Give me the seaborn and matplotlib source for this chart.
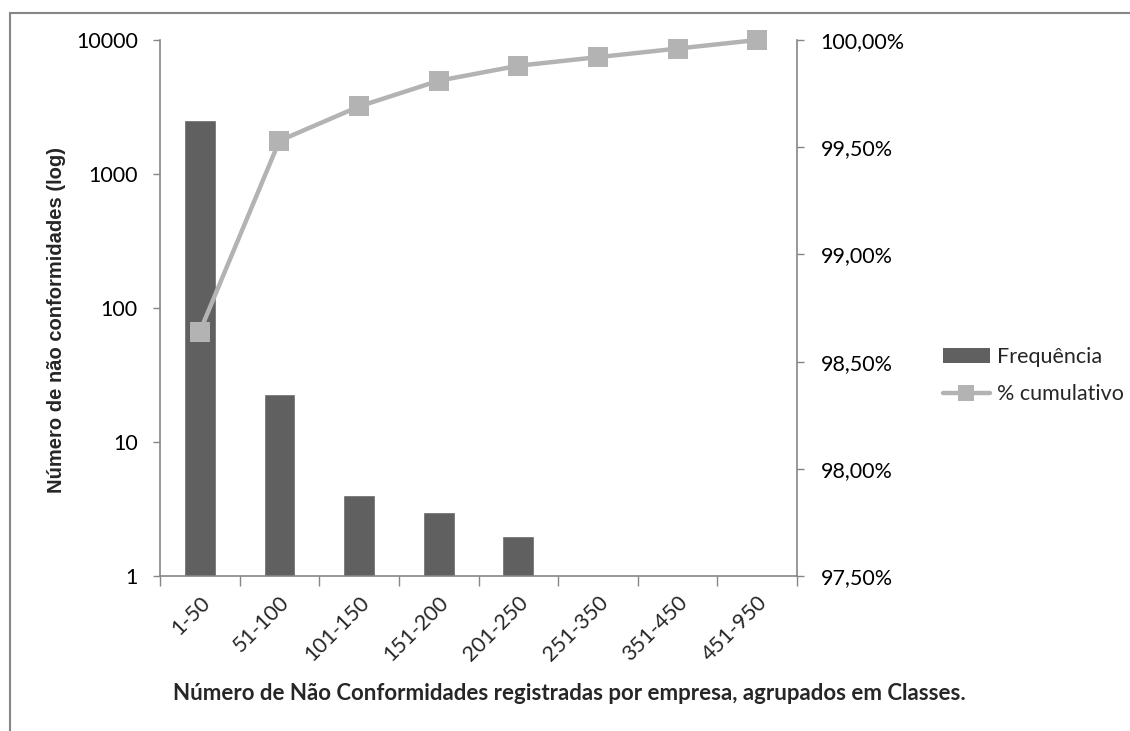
import numpy as np
import matplotlib
matplotlib.use("Agg")
import matplotlib.pyplot as plt
import matplotlib.ticker as mticker
from matplotlib.patches import Patch, Rectangle
from matplotlib.lines import Line2D
import seaborn as sns

# Data
classes = ["1-50", "51-100", "101-150", "151-200", "201-250", "251-350", "351-450", "451-950"]
frequencia = [2540, 23, 4, 3, 2, 1, 1, 1]
cumulativo = [98.64, 99.53, 99.69, 99.81, 99.88, 99.92, 99.96, 100.00]

bar_color = "#606060"
line_color = "#B3B3B3"
axis_color = "#868686"

sns.set_style("white")
plt.rcParams["font.family"] = ["Lato", "DejaVu Sans"]

fig = plt.figure(figsize=(11.3, 7.31), dpi=100)
ax = fig.add_axes([160 / 1130, 1 - 576 / 731, (797 - 160) / 1130, (576 - 40) / 731])

sns.barplot(x=classes, y=frequencia, ax=ax, color=bar_color, saturation=1, width=0.4)
ax.set_yscale("log")
ax.set_ylim(1, 10000)
ax.set_yticks([1, 10, 100, 1000, 10000])
ax.yaxis.set_major_formatter(mticker.FuncFormatter(lambda v, p: f"{v:.0f}"))
ax.yaxis.set_minor_locator(mticker.NullLocator())

# secondary axis with cumulative percentage
ax2 = ax.twinx()
sns.pointplot(x=classes, y=cumulativo, ax=ax2, color=line_color, marker="s",
              markersize=14, linewidth=3.2, markeredgewidth=0)
for ln in ax2.lines:
    ln.set_clip_on(False)
ax2.set_ylim(97.5, 100.0)
ax2.set_yticks(np.arange(97.5, 100.01, 0.5))
ax2.yaxis.set_major_formatter(mticker.FuncFormatter(lambda v, p: f"{v:.2f}%".replace(".", ",")))
ax2.set_xlim(-0.5, len(classes) - 0.5)
ax.set_xlim(-0.5, len(classes) - 0.5)

# spines / ticks
for a in (ax, ax2):
    for s in a.spines.values():
        s.set_visible(False)
ax.spines["left"].set_visible(True)
ax.spines["bottom"].set_visible(True)
ax2.spines["right"].set_visible(True)
for s in (ax.spines["left"], ax.spines["bottom"], ax2.spines["right"]):
    s.set_color(axis_color)
    s.set_linewidth(1.2)

ax.tick_params(axis="y", left=True, length=5, width=1, color=axis_color, pad=11,
               labelsize=15.5, labelcolor="black")
ax2.tick_params(axis="y", right=True, length=5, width=1, color=axis_color, pad=12,
                labelsize=15.5, labelcolor="black")

ax.set_xticks(np.arange(-0.5, len(classes)), minor=True)
ax.tick_params(axis="x", which="minor", bottom=True, length=7, width=1, color=axis_color)
ax.tick_params(axis="x", which="major", bottom=False, length=0, pad=12, labelsize=15.5)
for lab in ax.get_xticklabels():
    lab.set_rotation(45)
    lab.set_ha("right")
    lab.set_va("top")
    lab.set_rotation_mode("anchor")
ax2.set_xlabel("")
ax2.set_ylabel("")

ax.set_ylabel("Número de não conformidades (log)", fontsize=14.5, fontweight="bold",
              family=["Liberation Sans", "DejaVu Sans"])
ax.yaxis.set_label_coords(-0.147, 0.478)
ax.set_xlabel("Número de Não Conformidades registradas por empresa, agrupados em Classes.",
              fontsize=16, fontweight="bold")
ax.xaxis.set_label_coords(0.643, -0.2)

ax.set_zorder(ax2.get_zorder() - 1)
ax2.patch.set_visible(False)

handles = [
    Patch(facecolor=bar_color, edgecolor="none", label="Frequência"),
    Line2D([0], [0], color=line_color, lw=3.2, marker="s", markersize=11.5,
           markeredgewidth=0, label="% cumulativo"),
]
fig.legend(handles=handles, loc="center left", bbox_to_anchor=(0.817, 0.486),
           frameon=False, fontsize=15.5, handlelength=2.2, handleheight=0.65,
           handletextpad=0.33, labelspacing=0.8)

# outer chart frame
fig.add_artist(Rectangle((10 / 1130, -0.5), 2, 1.5 - 13 / 731, transform=fig.transFigure,
                         fill=False, edgecolor=axis_color, linewidth=1.5))

fig.savefig("out.png", dpi=100)
